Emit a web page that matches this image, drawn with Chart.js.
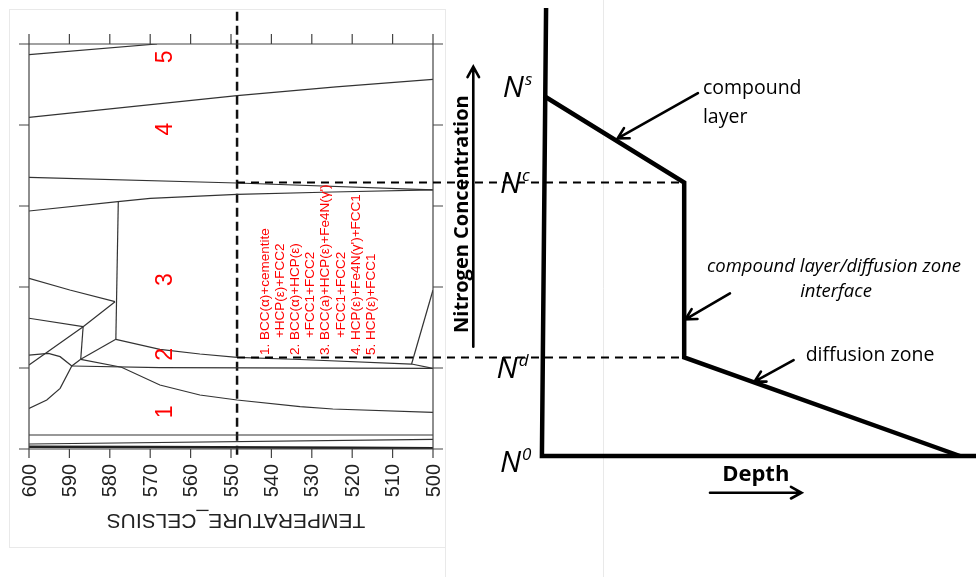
<!DOCTYPE html>
<html lang="en">
<head>
  <meta charset="UTF-8">
  <title>Phase diagram and nitrogen profile</title>
  <script src="https://cdn.jsdelivr.net/npm/chart.js"></script>
  <style>
    body { margin: 0; background: #fff; }
    #wrap { position: relative; width: 976px; height: 577px; }
    canvas { position: absolute; left: 0; top: 0; }
  </style>
</head>
<body>
  <div id="wrap">
    <canvas id="phaseChart" width="976" height="577"></canvas>
    <canvas id="profileChart" width="976" height="577"></canvas>
  </div>

  <script>
    // ---- left panel: isopleth section (temperature axis reversed) ----
    const tempTicks = [600, 590, 580, 570, 560, 550, 540, 530, 520, 510, 500];
    const fracTicks = [0, 1, 2, 3, 4, 5];
    const nitridingTemp = 548.5;   // dashed vertical guide

    // phase boundaries, each as [temperature, y]
    const boundaries = [
      [[600, 4.87], [568.3, 5.0]],
      [[600, 4.095], [574, 4.23], [548.5, 4.362], [524, 4.47], [500, 4.564]],
      [[600, 3.354], [548.5, 3.284], [500, 3.198]],
      [[600, 2.938], [578, 3.053], [570, 3.095], [548.5, 3.144], [524.8, 3.173], [500, 3.198]],
      [[577.9, 3.053], [578.5, 1.354]],
      [[600, 2.107], [589.9, 1.963], [578.7, 1.819]],
      [[578.7, 1.819], [586.6, 1.51], [600, 1.037]],
      [[600, 1.614], [586.6, 1.51]],
      [[586.6, 1.51], [587.2, 1.107]],
      [[587.2, 1.107], [578.5, 1.354]],
      [[578.5, 1.354], [567.6, 1.231], [557.7, 1.173], [548.5, 1.132], [532.9, 1.105], [505.3, 1.049], [500, 0.996]],
      [[505.3, 1.049], [500, 1.963]],
      [[589.4, 1.025], [567.6, 1.004], [500, 0.996]],
      [[600, 1.16], [595.2, 1.181], [592.3, 1.14], [589.4, 1.025]],
      [[600, 0.502], [595.6, 0.605], [592.3, 0.749], [589.4, 1.025], [587.2, 1.107]],
      [[587.2, 1.107], [577.1, 1.009], [567.6, 0.79], [557.7, 0.667], [548.5, 0.605], [532.9, 0.522], [524.8, 0.494], [500, 0.453]],
      [[600, 0.173], [500, 0.173]],
      [[600, 0.062], [500, 0.12]]
    ];
    const baseBoundary = [[600, 0.028], [570, 0.024], [520, 0.014], [500, 0.01]];

    const regionLabels = ['1', '2', '3', '4', '5'];
    const regionY = [0.46, 1.17, 2.09, 3.95, 4.84];
    const regionTemp = 566.3;

    const legendLines = [
      '1. BCC(\u03b1)+cementite', '+HCP(\u03b5)+FCC2',
      '2. BCC(\u03b1)+HCP(\u03b5)', '+FCC1+FCC2',
      '3. BCC(a)+HCP(\u03b5)+Fe4N(\u03b3\')', '+FCC1+FCC2',
      '4. HCP(\u03b5)+Fe4N(\u03b3\')+FCC1',
      '5. HCP(\u03b5)+FCC1'
    ];
    const legendIndent = [false, true, false, true, false, true, false, false];
    const legendTemp = 541.6;
    const legendY = 1.16;

    // ---- right panel: nitrogen concentration vs depth ----
    const levelNames = ['s', 'c', 'd', '0'];
    const levelValues = [80.36, 61.05, 21.99, 0];
    const interfaceDepth = 33.7;
    const diffusionEnd = 100;
    const guideStart = -73.8;      // depth value under the left panel guide

    const toPts = arr => arr.map(p => ({ x: p[0], y: p[1] }));

    // draws frame, ticks and texts of the phase diagram
    const phaseDecor = {
      id: 'phaseDecor',
      beforeDraw(chart) {
        const c = chart.ctx;
        c.save();
        c.fillStyle = '#fff';
        c.fillRect(0, 0, 976, 577);
        c.strokeStyle = '#e9e9e9';
        c.lineWidth = 1;
        c.strokeRect(9.5, 9.5, 436, 538);
        c.beginPath(); c.moveTo(445.5, 547); c.lineTo(445.5, 577); c.stroke();
        c.beginPath(); c.moveTo(603.5, 0); c.lineTo(603.5, 577); c.stroke();
        c.restore();
      },
      afterDatasetsDraw(chart) {
        const c = chart.ctx;
        const xs = chart.scales.x, ys = chart.scales.y;
        const a = chart.chartArea;
        c.save();
        c.strokeStyle = '#444';
        c.lineWidth = 1.2;
        c.beginPath();
        c.moveTo(a.left - 10, a.top); c.lineTo(a.right + 10, a.top);
        c.moveTo(a.left - 10, a.bottom); c.lineTo(a.right + 10, a.bottom);
        c.moveTo(a.left, a.top - 10); c.lineTo(a.left, a.bottom + 9);
        c.moveTo(a.right, a.top - 10); c.lineTo(a.right, a.bottom + 9);
        tempTicks.forEach(t => {
          const px = xs.getPixelForValue(t);
          c.moveTo(px, a.top - 10); c.lineTo(px, a.top);
          c.moveTo(px, a.bottom); c.lineTo(px, a.bottom + 9);
        });
        fracTicks.forEach(v => {
          const py = ys.getPixelForValue(v);
          c.moveTo(a.left - 10, py); c.lineTo(a.left, py);
          c.moveTo(a.right, py); c.lineTo(a.right + 10, py);
        });
        c.stroke();

        // tick labels, rotated as in the source figure
        c.fillStyle = '#222';
        c.font = '20px "Liberation Sans", Arial, sans-serif';
        c.textAlign = 'right';
        c.textBaseline = 'middle';
        tempTicks.forEach(t => {
          c.save();
          c.translate(xs.getPixelForValue(t), a.bottom + 15);
          c.rotate(-Math.PI / 2);
          c.fillText(String(t), 0, 1);
          c.restore();
        });
        c.save();
        c.translate((a.left + a.right) / 2 + 5, a.bottom + 71);
        c.rotate(Math.PI);
        c.textAlign = 'center';
        c.font = '21px "Liberation Sans", Arial, sans-serif';
        c.fillText('TEMPERATURE_CELSIUS', 0, 0);
        c.restore();

        // region numbers
        c.fillStyle = '#ff0000';
        c.font = '23px "Liberation Sans", Arial, sans-serif';
        c.textAlign = 'center';
        regionLabels.forEach((s, i) => {
          c.save();
          c.translate(xs.getPixelForValue(regionTemp), ys.getPixelForValue(regionY[i]));
          c.rotate(-Math.PI / 2);
          c.fillText(s, 0, 1);
          c.restore();
        });

        // phase legend
        c.font = '13.5px "Liberation Sans", Arial, sans-serif';
        c.textAlign = 'left';
        const lx = xs.getPixelForValue(legendTemp), ly = ys.getPixelForValue(legendY);
        legendLines.forEach((s, i) => {
          c.save();
          c.translate(lx + i * 15.2, ly - (legendIndent[i] ? 17 : 0));
          c.rotate(-Math.PI / 2);
          c.fillText(s, 0, 0);
          c.restore();
        });
        c.restore();
      }
    };

    const phaseSets = boundaries.map(b => ({
      data: toPts(b), borderColor: '#333', borderWidth: 1.2
    }));
    phaseSets.push({ data: toPts(baseBoundary), borderColor: '#222', borderWidth: 2.5 });
    phaseSets.push({
      data: [{ x: nitridingTemp, y: -0.07 }, { x: nitridingTemp, y: 5.42 }],
      borderColor: '#111', borderWidth: 2.5, borderDash: [9, 5], clip: false
    });

    new Chart(document.getElementById('phaseChart'), {
      type: 'scatter',
      data: { datasets: phaseSets.map(d => Object.assign({ showLine: true, pointRadius: 0, tension: 0 }, d)) },
      options: {
        responsive: false,
        animation: false,
        events: [],
        layout: { padding: { left: 29, top: 44, right: 543, bottom: 128 } },
        plugins: { legend: { display: false }, tooltip: { enabled: false } },
        scales: {
          x: { type: 'linear', min: 500, max: 600, reverse: true, display: false },
          y: { type: 'linear', min: 0, max: 5, display: false }
        }
      },
      plugins: [phaseDecor]
    });

    // ---- right panel ----
    const arrows = [
      [[37.0, 81.0], [17.7, 70.9]],
      [[44.7, 36.3], [34.0, 30.5]],
      [[60.0, 21.4], [50.6, 16.6]],
      [[-17.0, 24.4], [-17.0, 86.9]],
      [[39.9, -8.2], [61.9, -8.2]]
    ];
    const notes = [
      { text: 'compound', x: 38.2, y: 82.1, font: '19.5px "Open Sans"', align: 'left' },
      { text: 'layer', x: 38.2, y: 75.6, font: '19.5px "Open Sans"', align: 'left' },
      { text: 'compound layer/diffusion zone', x: 69.7, y: 42.3, font: 'italic 18.5px "Open Sans"', align: 'center' },
      { text: 'interface', x: 70.2, y: 36.7, font: 'italic 18.5px "Open Sans"', align: 'center' },
      { text: 'diffusion zone', x: 62.9, y: 22.5, font: '19.5px "Open Sans"', align: 'left' },
      { text: 'Depth', x: 50.9, y: -4.2, font: 'bold 22px "Open Sans"', align: 'center' }
    ];
    const levelLabelX = [-9.9, -10.6, -11.4, -10.6];
    const levelLabelY = [80.1, 58.7, 17.4, -3.6];

    const profileDecor = {
      id: 'profileDecor',
      afterDatasetsDraw(chart) {
        const c = chart.ctx;
        const xs = chart.scales.x, ys = chart.scales.y;
        const X = v => xs.getPixelForValue(v), Y = v => ys.getPixelForValue(v);
        c.save();
        c.strokeStyle = '#000';
        c.fillStyle = '#000';
        c.lineWidth = 2.6;
        c.lineCap = 'round';
        arrows.forEach(([p, q]) => {
          const x0 = X(p[0]), y0 = Y(p[1]), x1 = X(q[0]), y1 = Y(q[1]);
          const ang = Math.atan2(y1 - y0, x1 - x0);
          c.beginPath();
          c.moveTo(x0, y0); c.lineTo(x1, y1);
          c.moveTo(x1 - 12 * Math.cos(ang - 0.5), y1 - 12 * Math.sin(ang - 0.5));
          c.lineTo(x1, y1);
          c.lineTo(x1 - 12 * Math.cos(ang + 0.5), y1 - 12 * Math.sin(ang + 0.5));
          c.stroke();
        });

        c.textBaseline = 'middle';
        notes.forEach(n => {
          c.font = n.font;
          c.textAlign = n.align;
          c.fillText(n.text, X(n.x), Y(n.y));
        });

        c.save();
        c.translate(X(-19.7), Y(54.0));
        c.rotate(-Math.PI / 2);
        c.textAlign = 'center';
        c.font = 'bold 20px "Open Sans"';
        c.fillText('Nitrogen Concentration', 0, 0);
        c.restore();

        c.textBaseline = 'alphabetic';
        c.textAlign = 'left';
        levelNames.forEach((s, i) => {
          const x = X(levelLabelX[i]), y = Y(levelLabelY[i]);
          c.font = 'italic 30px "Open Sans"';
          c.fillText('N', x, y);
          const w = c.measureText('N').width;
          c.font = 'italic 17px "Open Sans"';
          c.fillText(s, x + w + 1, y - 12);
        });
        c.restore();
      }
    };

    const profileSets = [
      { data: [{ x: 0.5, y: 100 }, { x: -0.5, y: 0 }, { x: 104, y: 0 }], borderWidth: 4.5 },
      {
        data: [{ x: 0, y: levelValues[0] }, { x: interfaceDepth, y: levelValues[1] },
               { x: interfaceDepth, y: levelValues[2] }, { x: diffusionEnd, y: levelValues[3] }],
        borderWidth: 4.5
      },
      { data: [{ x: guideStart, y: levelValues[1] }, { x: interfaceDepth, y: levelValues[1] }], borderWidth: 2, borderDash: [8, 6] },
      { data: [{ x: guideStart, y: levelValues[2] }, { x: interfaceDepth, y: levelValues[2] }], borderWidth: 2, borderDash: [8, 6] }
    ];

    new Chart(document.getElementById('profileChart'), {
      type: 'scatter',
      data: {
        datasets: profileSets.map(d => Object.assign({
          showLine: true, pointRadius: 0, borderColor: '#000', clip: false, borderJoinStyle: 'miter'
        }, d))
      },
      options: {
        responsive: false,
        animation: false,
        events: [],
        layout: { padding: { left: 544, top: 8, right: 16, bottom: 121 } },
        plugins: { legend: { display: false }, tooltip: { enabled: false } },
        scales: {
          x: { type: 'linear', min: 0, max: 100, display: false },
          y: { type: 'linear', min: 0, max: 100, display: false }
        }
      },
      plugins: [profileDecor]
    });
  </script>
</body>
</html>
